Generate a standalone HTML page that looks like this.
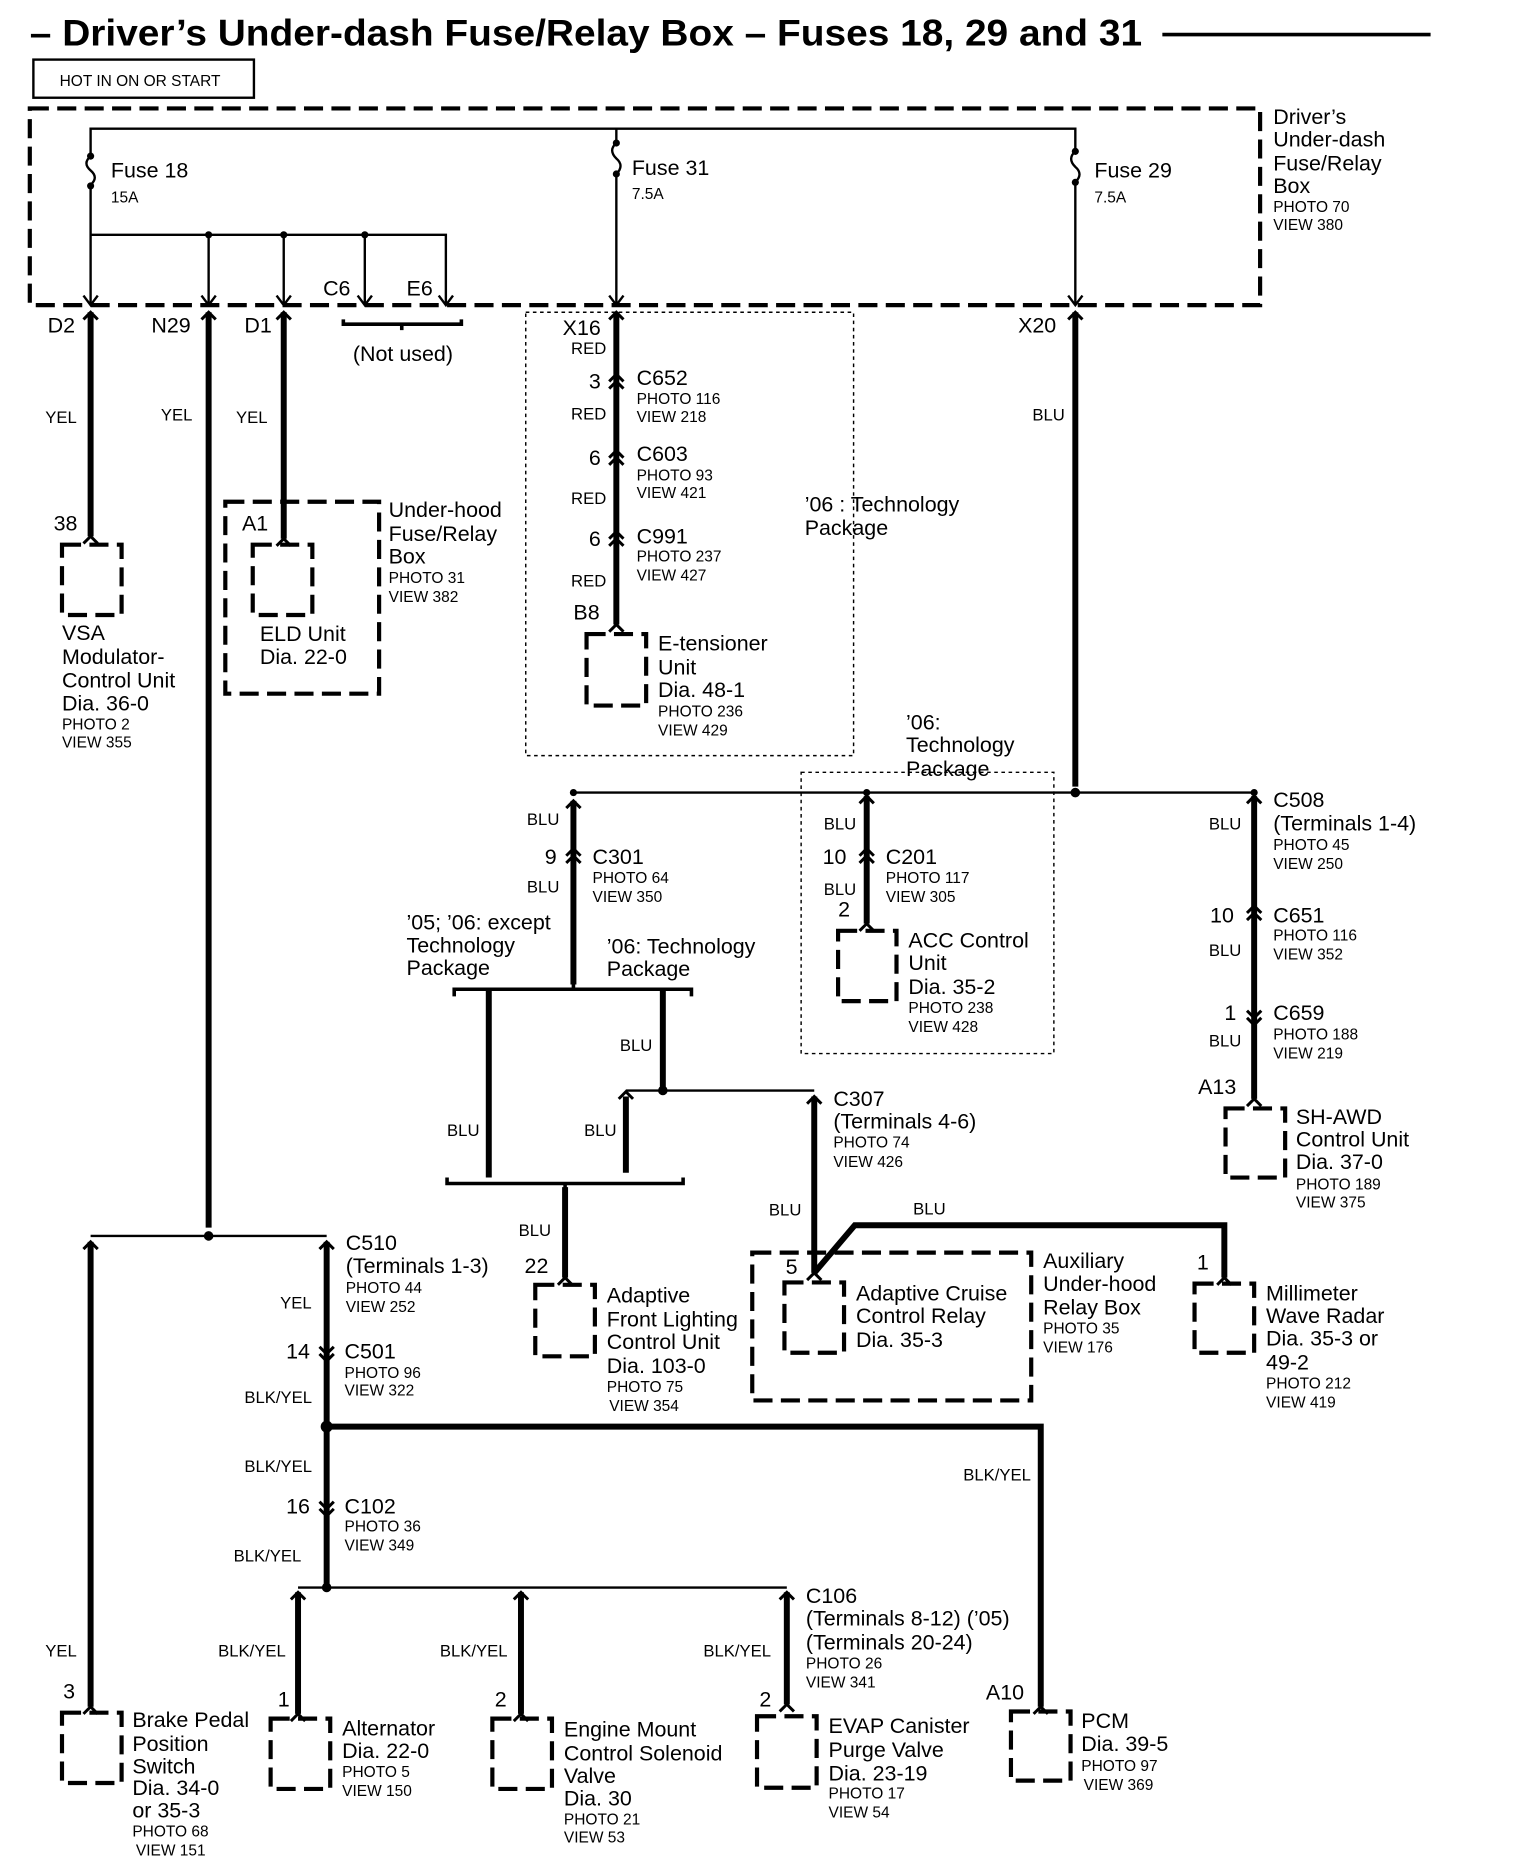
<!DOCTYPE html>
<html><head><meta charset="utf-8"><style>
html,body{margin:0;padding:0;background:#fff}
svg{display:block}
text{font-family:"Liberation Sans",Arial,sans-serif;fill:#000}
.l{font-size:18px}.s{font-size:13px}.w{font-size:14px}
</style></head><body>
<svg width="1520" height="1870" viewBox="0 0 1275 1569" preserveAspectRatio="none" xmlns="http://www.w3.org/2000/svg">
<g fill="none" stroke="#000">
<line x1="975" y1="29" x2="1200" y2="29" stroke-width="3"/>
<rect x="28" y="50" width="185" height="32" stroke-width="2"/>
<rect x="25" y="91" width="1032" height="165" stroke-width="3.5" stroke-dasharray="16 7"/>
<polyline points="76,256 76,108 902,108 902,256" stroke-width="2"/>
<line x1="517" y1="108" x2="517" y2="256" stroke-width="2"/>
<polyline points="76,197 374,197 374,256" stroke-width="2"/>
<line x1="175" y1="197" x2="175" y2="256" stroke-width="2"/>
<line x1="238" y1="197" x2="238" y2="256" stroke-width="2"/>
<line x1="306" y1="197" x2="306" y2="256" stroke-width="2"/>
<line x1="76" y1="131" x2="76" y2="156" stroke="#fff" stroke-width="4"/>
<path d="M76 131 q-7 6 0 12 q7 6 0 12" stroke-width="2"/>
<line x1="517" y1="120" x2="517" y2="146" stroke="#fff" stroke-width="4"/>
<path d="M517 120 q-7 6 0 13 q7 6 0 13" stroke-width="2"/>
<line x1="902" y1="127" x2="902" y2="153" stroke="#fff" stroke-width="4"/>
<path d="M902 127 q-7 6 0 13 q7 6 0 13" stroke-width="2"/>
<g stroke-width="2">
<path d="M70 248 L76 256 L82 248"/><path d="M169 248 L175 256 L181 248"/><path d="M232 248 L238 256 L244 248"/>
<path d="M300 248 L306 256 L312 248"/><path d="M368 248 L374 256 L380 248"/><path d="M511 248 L517 256 L523 248"/><path d="M896 248 L902 256 L908 248"/>
</g>
<path d="M288 268 L288 272 L387 272 L387 268 M337 272 L337 277" stroke-width="3"/>
<g stroke-width="5">
<line x1="76" y1="262" x2="76" y2="450"/>
<line x1="175" y1="262" x2="175" y2="1030"/>
<line x1="238" y1="262" x2="238" y2="452"/>
<line x1="517" y1="262" x2="517" y2="524"/>
<line x1="902" y1="262" x2="902" y2="660"/>
<line x1="481" y1="672" x2="481" y2="826"/>
<line x1="727" y1="668" x2="727" y2="775"/>
<line x1="1052" y1="668" x2="1052" y2="922"/>
<line x1="410" y1="830" x2="410" y2="988"/>
<line x1="556" y1="830" x2="556" y2="912"/>
<line x1="525" y1="920" x2="525" y2="984"/>
<line x1="474" y1="996" x2="474" y2="1072"/>
<line x1="683" y1="920" x2="683" y2="1068"/>
<polyline points="683,1068 717,1028 1027,1028 1027,1072"/>
<line x1="76" y1="1042" x2="76" y2="1432"/>
<line x1="274" y1="1042" x2="274" y2="1332"/>
<polyline points="274,1197 873,1197 873,1432"/>
<line x1="250" y1="1336" x2="250" y2="1438"/>
<line x1="437" y1="1336" x2="437" y2="1438"/>
<line x1="660" y1="1336" x2="660" y2="1430"/>
</g>
<g stroke-width="2">
<line x1="481" y1="665" x2="1052" y2="665"/>
<line x1="76" y1="1037" x2="274" y2="1037"/>
<line x1="525" y1="915" x2="683" y2="915"/>
<line x1="250" y1="1332" x2="660" y2="1332"/>
</g>
<path d="M381 836 L381 830 L580 830 L580 836 M481 830 L481 824" stroke-width="3"/>
<path d="M375 988 L375 993 L573 993 L573 988 M474 993 L474 999" stroke-width="3"/>
<g stroke-width="2.5">
<path d="M70 268 L76 262 L82 268"/><path d="M169 268 L175 262 L181 268"/><path d="M232 268 L238 262 L244 268"/>
<path d="M511 268 L517 262 L523 268"/><path d="M896 268 L902 262 L908 268"/>
<path d="M475 678 L481 672 L487 678"/><path d="M721 674 L727 668 L733 674"/><path d="M1046 674 L1052 668 L1058 674"/>
<path d="M519 922 L525 916 L531 922"/><path d="M677 926 L683 920 L689 926"/>
<path d="M70 1048 L76 1042 L82 1048"/><path d="M268 1048 L274 1042 L280 1048"/>
<path d="M244 1342 L250 1336 L256 1342"/><path d="M431 1342 L437 1336 L443 1342"/><path d="M654 1342 L660 1336 L666 1342"/>
<path d="M511 326 L517 320 L523 326 M511 320 L517 314 L523 320"/>
<path d="M511 390 L517 384 L523 390 M511 384 L517 378 L523 384"/>
<path d="M511 458 L517 452 L523 458 M511 452 L517 446 L523 452"/>
<path d="M475 724 L481 718 L487 724 M475 718 L481 712 L487 718"/>
<path d="M721 724 L727 718 L733 724 M721 718 L727 712 L733 718"/>
<path d="M1046 772 L1052 766 L1058 772 M1046 766 L1052 760 L1058 766"/>
<path d="M1046 848 L1052 854 L1058 848 M1046 854 L1052 860 L1058 854"/>
<path d="M268 1130 L274 1136 L280 1130 M268 1136 L274 1142 L280 1136"/>
<path d="M268 1260 L274 1266 L280 1260 M268 1266 L274 1272 L280 1266"/>
<path d="M70 456 L76 450 L82 456"/><path d="M232 458 L238 452 L244 458"/><path d="M511 530 L517 524 L523 530"/>
<path d="M721 781 L727 775 L733 781"/><path d="M1046 928 L1052 922 L1058 928"/><path d="M468 1078 L474 1072 L480 1078"/>
<path d="M677 1074 L683 1068 L689 1074"/><path d="M1021 1078 L1027 1072 L1033 1078"/>
<path d="M70 1438 L76 1432 L82 1438"/><path d="M244 1444 L250 1438 L256 1444"/><path d="M431 1444 L437 1438 L443 1444"/>
<path d="M654 1436 L660 1430 L666 1436"/><path d="M867 1438 L873 1432 L879 1438"/>
</g>
<g stroke-width="3.5" stroke-dasharray="16 7">
<rect x="52" y="457" width="50" height="59"/>
<rect x="189" y="421" width="129" height="161"/>
<rect x="212" y="457" width="50" height="59"/>
<rect x="492" y="532" width="50" height="60"/>
<rect x="703" y="781" width="49" height="59"/>
<rect x="1028" y="930" width="50" height="58"/>
<rect x="449" y="1078" width="50" height="60"/>
<rect x="631" y="1051" width="234" height="124"/>
<rect x="658" y="1076" width="50" height="59"/>
<rect x="1002" y="1077" width="50" height="58"/>
<rect x="52" y="1437" width="50" height="59"/>
<rect x="227" y="1442" width="50" height="59"/>
<rect x="413" y="1442" width="50" height="59"/>
<rect x="635" y="1440" width="50" height="60"/>
<rect x="848" y="1436" width="50" height="58"/>
</g>
<g stroke-width="1.2" stroke-dasharray="3 3">
<rect x="441" y="262" width="275" height="372"/>
<rect x="672" y="648" width="212" height="236"/>
</g>
</g>
<g fill="#000">
<circle cx="76" cy="131" r="3"/><circle cx="76" cy="156" r="3"/>
<circle cx="517" cy="120" r="3"/><circle cx="517" cy="146" r="3"/>
<circle cx="902" cy="127" r="3"/><circle cx="902" cy="153" r="3"/>
<circle cx="175" cy="197" r="3"/><circle cx="238" cy="197" r="3"/><circle cx="306" cy="197" r="3"/>
<circle cx="902" cy="665" r="4"/><circle cx="481" cy="665" r="3"/><circle cx="727" cy="665" r="3"/><circle cx="1052" cy="665" r="3"/>
<circle cx="556" cy="915" r="4"/><circle cx="175" cy="1037" r="4"/><circle cx="274" cy="1197" r="5"/><circle cx="274" cy="1332" r="4"/>
</g>
<text x="25" y="38" textLength="933" lengthAdjust="spacingAndGlyphs" style="font-size:31px;font-weight:bold">– Driver’s Under-dash Fuse/Relay Box – Fuses 18, 29 and 31</text>
<text x="50" y="72" class="s">HOT IN ON OR START</text>
<text x="93" y="149" class="l">Fuse 18</text><text x="93" y="170" class="s">15A</text>
<text x="530" y="147" class="l">Fuse 31</text><text x="530" y="167" class="s">7.5A</text>
<text x="918" y="149" class="l">Fuse 29</text><text x="918" y="170" class="s">7.5A</text>
<text class="l"><tspan x="1068" y="104">Driver’s</tspan><tspan x="1068" y="123">Under-dash</tspan><tspan x="1068" y="143">Fuse/Relay</tspan><tspan x="1068" y="162">Box</tspan></text>
<text class="s"><tspan x="1068" y="178">PHOTO 70</tspan><tspan x="1068" y="193">VIEW 380</tspan></text>
<text x="271" y="248" class="l">C6</text><text x="341" y="248" class="l">E6</text>
<text x="40" y="279" class="l">D2</text><text x="127" y="279" class="l">N29</text><text x="205" y="279" class="l">D1</text>
<text x="296" y="303" class="l">(Not used)</text>
<text x="38" y="355" class="w">YEL</text><text x="135" y="353" class="w">YEL</text><text x="198" y="355" class="w">YEL</text>
<text x="45" y="445" class="l">38</text>
<text class="l"><tspan x="52" y="537">VSA</tspan><tspan x="52" y="557">Modulator-</tspan><tspan x="52" y="577">Control Unit</tspan><tspan x="52" y="596">Dia. 36-0</tspan></text>
<text class="s"><tspan x="52" y="612">PHOTO 2</tspan><tspan x="52" y="627">VIEW 355</tspan></text>
<text x="203" y="445" class="l">A1</text>
<text class="l"><tspan x="218" y="538">ELD Unit</tspan><tspan x="218" y="557">Dia. 22-0</tspan></text>
<text class="l"><tspan x="326" y="434">Under-hood</tspan><tspan x="326" y="454">Fuse/Relay</tspan><tspan x="326" y="473">Box</tspan></text>
<text class="s"><tspan x="326" y="489">PHOTO 31</tspan><tspan x="326" y="505">VIEW 382</tspan></text>
<text x="472" y="281" class="l">X16</text><text x="479" y="297" class="w">RED</text>
<text x="494" y="326" class="l">3</text><text x="534" y="323" class="l">C652</text>
<text class="s"><tspan x="534" y="339">PHOTO 116</tspan><tspan x="534" y="354">VIEW 218</tspan></text>
<text x="479" y="352" class="w">RED</text>
<text x="494" y="390" class="l">6</text><text x="534" y="387" class="l">C603</text>
<text class="s"><tspan x="534" y="403">PHOTO 93</tspan><tspan x="534" y="418">VIEW 421</tspan></text>
<text x="479" y="423" class="w">RED</text>
<text x="494" y="458" class="l">6</text><text x="534" y="456" class="l">C991</text>
<text class="s"><tspan x="534" y="471">PHOTO 237</tspan><tspan x="534" y="487">VIEW 427</tspan></text>
<text x="479" y="492" class="w">RED</text>
<text x="481" y="520" class="l">B8</text>
<text class="l"><tspan x="552" y="546">E-tensioner</tspan><tspan x="552" y="566">Unit</tspan><tspan x="552" y="585">Dia. 48-1</tspan></text>
<text class="s"><tspan x="552" y="601">PHOTO 236</tspan><tspan x="552" y="617">VIEW 429</tspan></text>
<text class="l"><tspan x="675" y="429">’06 : Technology</tspan><tspan x="675" y="449">Package</tspan></text>
<text x="854" y="279" class="l">X20</text><text x="866" y="353" class="w">BLU</text>
<text class="l"><tspan x="760" y="612">’06:</tspan><tspan x="760" y="631">Technology</tspan><tspan x="760" y="651">Package</tspan></text>
<text x="442" y="692" class="w">BLU</text><text x="442" y="749" class="w">BLU</text>
<text x="457" y="725" class="l">9</text><text x="497" y="725" class="l">C301</text>
<text class="s"><tspan x="497" y="741">PHOTO 64</tspan><tspan x="497" y="757">VIEW 350</tspan></text>
<text class="l"><tspan x="341" y="780">’05; ’06: except</tspan><tspan x="341" y="799">Technology</tspan><tspan x="341" y="818">Package</tspan></text>
<text class="l"><tspan x="509" y="800">’06: Technology</tspan><tspan x="509" y="819">Package</tspan></text>
<text x="691" y="696" class="w">BLU</text><text x="691" y="751" class="w">BLU</text>
<text x="690" y="725" class="l">10</text><text x="743" y="725" class="l">C201</text>
<text class="s"><tspan x="743" y="741">PHOTO 117</tspan><tspan x="743" y="757">VIEW 305</tspan></text>
<text x="703" y="769" class="l">2</text>
<text class="l"><tspan x="762" y="795">ACC Control</tspan><tspan x="762" y="814">Unit</tspan><tspan x="762" y="834">Dia. 35-2</tspan></text>
<text class="s"><tspan x="762" y="850">PHOTO 238</tspan><tspan x="762" y="866">VIEW 428</tspan></text>
<text class="l"><tspan x="1068" y="677">C508</tspan><tspan x="1068" y="697">(Terminals 1-4)</tspan></text>
<text class="s"><tspan x="1068" y="713">PHOTO 45</tspan><tspan x="1068" y="729">VIEW 250</tspan></text>
<text x="1014" y="696" class="w">BLU</text>
<text x="1015" y="774" class="l">10</text><text x="1068" y="774" class="l">C651</text>
<text class="s"><tspan x="1068" y="789">PHOTO 116</tspan><tspan x="1068" y="805">VIEW 352</tspan></text>
<text x="1014" y="802" class="w">BLU</text>
<text x="1027" y="856" class="l">1</text><text x="1068" y="856" class="l">C659</text>
<text class="s"><tspan x="1068" y="872">PHOTO 188</tspan><tspan x="1068" y="888">VIEW 219</tspan></text>
<text x="1014" y="878" class="w">BLU</text>
<text x="1005" y="918" class="l">A13</text>
<text class="l"><tspan x="1087" y="943">SH-AWD</tspan><tspan x="1087" y="962">Control Unit</tspan><tspan x="1087" y="981">Dia. 37-0</tspan></text>
<text class="s"><tspan x="1087" y="998">PHOTO 189</tspan><tspan x="1087" y="1013">VIEW 375</tspan></text>
<text x="520" y="882" class="w">BLU</text><text x="375" y="953" class="w">BLU</text><text x="490" y="953" class="w">BLU</text>
<text class="l"><tspan x="699" y="928">C307</tspan><tspan x="699" y="947">(Terminals 4-6)</tspan></text>
<text class="s"><tspan x="699" y="963">PHOTO 74</tspan><tspan x="699" y="979">VIEW 426</tspan></text>
<text x="435" y="1037" class="w">BLU</text><text x="440" y="1068" class="l">22</text>
<text class="l"><tspan x="509" y="1093">Adaptive</tspan><tspan x="509" y="1113">Front Lighting</tspan><tspan x="509" y="1132">Control Unit</tspan><tspan x="509" y="1152">Dia. 103-0</tspan></text>
<text class="s"><tspan x="509" y="1168">PHOTO 75</tspan><tspan x="511" y="1184">VIEW 354</tspan></text>
<text x="645" y="1020" class="w">BLU</text><text x="766" y="1019" class="w">BLU</text>
<text x="659" y="1069" class="l">5</text><text x="1004" y="1065" class="l">1</text>
<text class="l"><tspan x="718" y="1091">Adaptive Cruise</tspan><tspan x="718" y="1110">Control Relay</tspan><tspan x="718" y="1130">Dia. 35-3</tspan></text>
<text class="l"><tspan x="875" y="1064">Auxiliary</tspan><tspan x="875" y="1083">Under-hood</tspan><tspan x="875" y="1103">Relay Box</tspan></text>
<text class="s"><tspan x="875" y="1119">PHOTO 35</tspan><tspan x="875" y="1135">VIEW 176</tspan></text>
<text class="l"><tspan x="1062" y="1091">Millimeter</tspan><tspan x="1062" y="1110">Wave Radar</tspan><tspan x="1062" y="1129">Dia. 35-3 or</tspan><tspan x="1062" y="1149">49-2</tspan></text>
<text class="s"><tspan x="1062" y="1165">PHOTO 212</tspan><tspan x="1062" y="1181">VIEW 419</tspan></text>
<text class="l"><tspan x="290" y="1049">C510</tspan><tspan x="290" y="1068">(Terminals 1-3)</tspan></text>
<text class="s"><tspan x="290" y="1085">PHOTO 44</tspan><tspan x="290" y="1101">VIEW 252</tspan></text>
<text x="235" y="1098" class="w">YEL</text>
<text x="240" y="1140" class="l">14</text><text x="289" y="1140" class="l">C501</text>
<text class="s"><tspan x="289" y="1156">PHOTO 96</tspan><tspan x="289" y="1171">VIEW 322</tspan></text>
<text x="205" y="1177" class="w">BLK/YEL</text><text x="205" y="1235" class="w">BLK/YEL</text>
<text x="808" y="1242" class="w">BLK/YEL</text>
<text x="240" y="1270" class="l">16</text><text x="289" y="1270" class="l">C102</text>
<text class="s"><tspan x="289" y="1285">PHOTO 36</tspan><tspan x="289" y="1301">VIEW 349</tspan></text>
<text x="196" y="1310" class="w">BLK/YEL</text>
<text class="l"><tspan x="676" y="1345">C106</tspan><tspan x="676" y="1364">(Terminals 8-12) (’05)</tspan><tspan x="676" y="1384">(Terminals 20-24)</tspan></text>
<text class="s"><tspan x="676" y="1400">PHOTO 26</tspan><tspan x="676" y="1416">VIEW 341</tspan></text>
<text x="38" y="1390" class="w">YEL</text><text x="183" y="1390" class="w">BLK/YEL</text><text x="369" y="1390" class="w">BLK/YEL</text><text x="590" y="1390" class="w">BLK/YEL</text>
<text x="53" y="1425" class="l">3</text><text x="233" y="1432" class="l">1</text><text x="415" y="1432" class="l">2</text><text x="637" y="1432" class="l">2</text><text x="827" y="1426" class="l">A10</text>
<text class="l"><tspan x="111" y="1449">Brake Pedal</tspan><tspan x="111" y="1469">Position</tspan><tspan x="111" y="1488">Switch</tspan><tspan x="111" y="1506">Dia. 34-0</tspan><tspan x="111" y="1525">or 35-3</tspan></text>
<text class="s"><tspan x="111" y="1541">PHOTO 68</tspan><tspan x="114" y="1557">VIEW 151</tspan></text>
<text class="l"><tspan x="287" y="1456">Alternator</tspan><tspan x="287" y="1475">Dia. 22-0</tspan></text>
<text class="s"><tspan x="287" y="1491">PHOTO 5</tspan><tspan x="287" y="1507">VIEW 150</tspan></text>
<text class="l"><tspan x="473" y="1457">Engine Mount</tspan><tspan x="473" y="1477">Control Solenoid</tspan><tspan x="473" y="1496">Valve</tspan><tspan x="473" y="1515">Dia. 30</tspan></text>
<text class="s"><tspan x="473" y="1531">PHOTO 21</tspan><tspan x="473" y="1546">VIEW 53</tspan></text>
<text class="l"><tspan x="695" y="1454">EVAP Canister</tspan><tspan x="695" y="1474">Purge Valve</tspan><tspan x="695" y="1494">Dia. 23-19</tspan></text>
<text class="s"><tspan x="695" y="1509">PHOTO 17</tspan><tspan x="695" y="1525">VIEW 54</tspan></text>
<text class="l"><tspan x="907" y="1450">PCM</tspan><tspan x="907" y="1469">Dia. 39-5</tspan></text>
<text class="s"><tspan x="907" y="1486">PHOTO 97</tspan><tspan x="909" y="1502">VIEW 369</tspan></text>
</svg>
</body></html>
